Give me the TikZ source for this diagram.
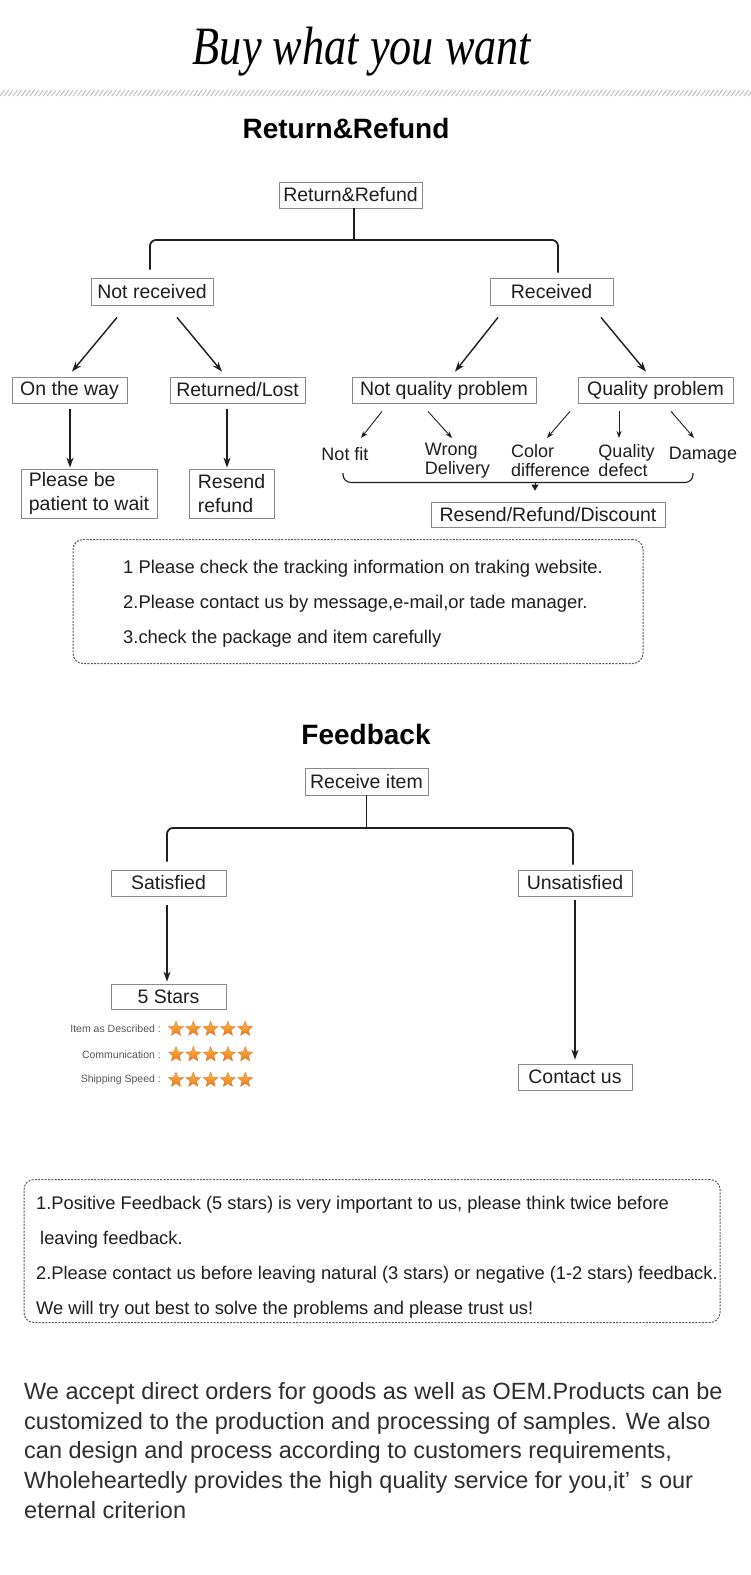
\documentclass[tikz,border=0pt]{standalone}
\usepackage{fontspec}
\setmainfont{Liberation Sans}
\newfontfamily\titlefont{Liberation Serif}
\usetikzlibrary{arrows.meta,shapes.geometric}
\definecolor{ink}{HTML}{1E1E1E}
\definecolor{paraink}{HTML}{2E2E2E}
\definecolor{boxline}{HTML}{8A8A8A}
\definecolor{startop}{HTML}{FAB64C}
\definecolor{starbot}{HTML}{EC7A1C}
\definecolor{stardraw}{HTML}{E0701A}
\definecolor{hatchc}{HTML}{C4C4C4}
\definecolor{dashc}{HTML}{555555}
\definecolor{lbl}{HTML}{555555}
\begin{document}
\begin{tikzpicture}[x=1pt,y=-1pt,
 fbox/.style={draw=boxline, line width=0.8pt, inner sep=0pt, text=ink, font=\fontsize{19.5}{24}\selectfont},
 lab/.style={inner sep=0pt, text=ink, font=\fontsize{18}{19}\selectfont, align=left},
 arr/.style={draw=ink, line width=1.4pt, -{Stealth[length=10pt,width=7pt]}},
 sarr/.style={draw=ink, line width=0.9pt, -{Stealth[length=7pt,width=5pt]}},
 tree/.style={draw=ink, line width=1.8pt, rounded corners=6pt},
 dbox/.style={draw=dashc, line width=1pt, dash pattern=on 2pt off 1.3pt, rounded corners=10pt, inner sep=0pt},
 note/.style={inner sep=0pt, text=ink, align=left, font=\fontsize{18.4}{35}\selectfont},
 heading/.style={inner sep=0pt, text=black, font=\fontsize{28}{28}\selectfont\bfseries},
 starn/.style={star, star points=5, star point ratio=2.3, minimum size=15.5pt, inner sep=0pt, top color=startop, bottom color=starbot, draw=stardraw, line width=0.4pt},
 starlab/.style={inner sep=0pt, text=lbl, font=\fontsize{10.5}{10.5}\selectfont, anchor=east}]
\useasboundingbox[fill=white] (0,0) rectangle (750,1575);

% title and hatch
\node[inner sep=0pt, text=black] (title) at (362,52) {\titlefont\itshape\scalebox{0.82}[1]{\fontsize{54}{54}\selectfont Buy what you want}};
\foreach \i in {0,...,175} \draw[hatchc, line width=1.1pt] ({\i*4.3},96) -- ({\i*4.3+4.5},90);

% ---------- Return & Refund ----------
\node[heading] (h1) at (346,128) {Return\&Refund};
\node[fbox, minimum width=143pt, minimum height=26pt] (rr) at (350.5,195) {Return\&Refund};
\node[fbox, minimum width=122pt, minimum height=27pt] (nr) at (152,291.5) {Not received};
\node[fbox, minimum width=123pt, minimum height=27pt] (rec) at (551.5,291.5) {Received};
\node[fbox, minimum width=115pt, minimum height=26pt] (otw) at (69.5,390) {On the way};
\node[fbox, minimum width=135pt, minimum height=26pt] (rl) at (237.5,390) {Returned/Lost};
\node[fbox, minimum width=184pt, minimum height=26pt] (nqp) at (444,390) {Not quality problem};
\node[fbox, minimum width=155pt, minimum height=26pt] (qp) at (655.5,390) {Quality problem};
\node[fbox, minimum width=136pt, minimum height=49pt, align=left] (pbp) at (89,493.5) {Please be\\patient to wait};
\node[fbox, minimum width=85pt, minimum height=49pt, align=left] (rsr) at (231.5,493.5) {Resend\\refund};
\node[lab] (nf) at (345,454) {Not fit};
\node[lab] (wd) at (457.5,461) {Wrong\\Delivery};
\node[lab] (cd) at (550.5,461) {Color\\difference};
\node[lab] (qd) at (626.5,461) {Quality\\defect};
\node[lab] (dm) at (703,455) {Damage};
\node[fbox, minimum width=234pt, minimum height=25pt] (rrd) at (548,514.5) {Resend/Refund/Discount};

\draw[tree] ([xshift=3.5pt]rr.south) -- ([xshift=3.5pt]rr.south |- 0,240);
\draw[tree, shorten <=8pt, shorten >=5pt] ([xshift=-2pt]nr.north) -- ([xshift=-2pt]nr.north |- 0,240) -- ([xshift=6.5pt]rec.north |- 0,240) -- ([xshift=6.5pt]rec.north);

\draw[arr] ([shift={(-35,12)}]nr.south) -- ([shift={(2.5,-5)}]otw.north);
\draw[arr] ([shift={(25,12)}]nr.south) -- ([shift={(-15.5,-5)}]rl.north);
\draw[arr] ([shift={(-53.5,12)}]rec.south) -- ([shift={(11,-5)}]nqp.north);
\draw[arr] ([shift={(49.5,12)}]rec.south) -- ([shift={(-9.5,-5)}]qp.north);
\draw[arr] ([shift={(0.5,6)}]otw.south) -- ([shift={(-19,-1)}]pbp.north);
\draw[arr] ([shift={(-10.5,6)}]rl.south) -- ([shift={(-4.5,-1)}]rsr.north);

\draw[sarr] ([shift={(-62,8)}]nqp.south) -- ([shift={(16,-16)}]nf.center);
\draw[sarr] ([shift={(-16,8)}]nqp.south) -- ([shift={(-5.5,-23)}]wd.center);
\draw[sarr] ([shift={(-85.5,8)}]qp.south) -- ([shift={(-3.5,-23)}]cd.center);
\draw[sarr] ([shift={(-36.5,8)}]qp.south) -- ([shift={(-7.5,-23)}]qd.center);
\draw[sarr] ([shift={(15.5,8)}]qp.south) -- ([shift={(-9,-17)}]dm.center);

\coordinate (bl) at (343,473);
\coordinate (br) at (693,473);
\coordinate (bm) at (535,482.5);
\draw[ink, line width=1.1pt, rounded corners=8pt] (bl) -- (bl |- bm) -- (br |- bm) -- (br);
\draw[ink, line width=0.8pt, -{Triangle[length=6pt,width=7pt]}, shorten >=11pt] (bm) -- (bm |- rrd.north);

\node[dbox, minimum width=570pt, minimum height=124pt] (n1) at (358,601.5) {};
\node[note, anchor=west] (n1t) at (123,604) {1 Please check the tracking information on traking website.\\2.Please contact us by message,e-mail,or tade manager.\\3.check the package and item carefully};

% ---------- Feedback ----------
\node[heading] (h2) at (366,734) {Feedback};
\node[fbox, minimum width=123pt, minimum height=27pt] (ri) at (366.5,781.5) {Receive item};
\node[fbox, minimum width=115pt, minimum height=26pt] (sat) at (168.5,883) {Satisfied};
\node[fbox, minimum width=114pt, minimum height=26pt] (uns) at (575,883) {Unsatisfied};
\node[fbox, minimum width=115pt, minimum height=25pt] (fs) at (168.5,996.5) {5 Stars};
\node[fbox, minimum width=114pt, minimum height=26pt] (cu) at (575,1077) {Contact us};

\draw[tree] (ri.south) -- (ri.south |- 0,828);
\draw[tree, shorten <=8pt, shorten >=5pt] ([xshift=-1.5pt]sat.north) -- ([xshift=-1.5pt]sat.north |- 0,828) -- ([xshift=-2pt]uns.north |- 0,828) -- ([xshift=-2pt]uns.north);
\draw[arr] ([shift={(-1.5,9)}]sat.south) -- ([shift={(-1.5,-2)}]fs.north);
\draw[arr] ([shift={(0,4)}]uns.south) -- ([shift={(0,-4)}]cu.north);

\node[starlab] (l1) at (161,1029) {Item as Described :};
\node[starlab] (l2) at (161,1054.5) {Communication :};
\node[starlab] (l3) at (161,1080) {Shipping Speed :};
\foreach \r/\yy in {1/1029,2/1054.5,3/1080}
  \foreach \i in {0,...,4}
    \node[starn] (s\r\i) at ({176+\i*17.3},\yy) {};

\node[dbox, minimum width=696pt, minimum height=143pt] (n2) at (372,1251) {};
\node[note, anchor=west, font=\fontsize{18.3}{35}\selectfont] (n2t) at (36,1257.5) {1.Positive Feedback (5 stars) is very important to us, please think twice before\\\hspace{4pt}leaving feedback.\\2.Please contact us before leaving natural (3 stars) or negative (1-2 stars) feedback.\\We will try out best to solve the problems and please trust us!};

% ---------- closing paragraph ----------
\node[inner sep=0pt, anchor=west, align=left, text=paraink, font=\fontsize{23.5}{29.75}\selectfont] (para) at (24,1450.5) {We accept direct orders for goods as well as OEM.Products can be\\customized to the production and processing of samples. We also\\can design and process according to customers requirements,\\Wholeheartedly provides the high quality service for you,it’\hspace{0.45em}s our\\eternal criterion};
\end{tikzpicture}
\end{document}
